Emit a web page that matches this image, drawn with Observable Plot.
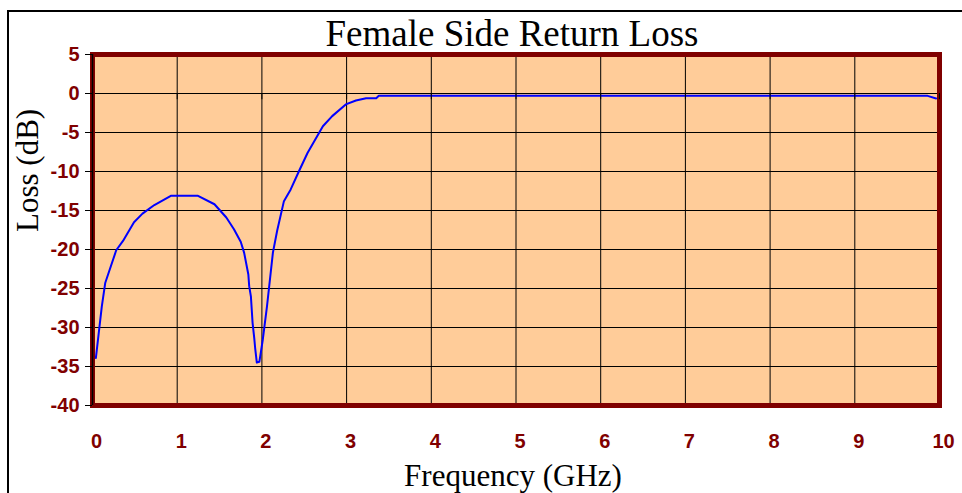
<!DOCTYPE html>
<html>
<head>
<meta charset="utf-8">
<script src="https://cdn.jsdelivr.net/npm/d3@7"></script>
<script src="https://cdn.jsdelivr.net/npm/@observablehq/plot@0.6"></script>
<style>
  html, body { margin: 0; padding: 0; background: #fff; }
  #wrap { position: relative; width: 962px; height: 493px; overflow: hidden; }
  #border { position: absolute; left: 7px; top: 10px; width: 1000px; height: 1000px;
            border-left: 2px solid #000; border-top: 2px solid #000; pointer-events: none; }
</style>
</head>
<body>
<div id="wrap"><div id="border"></div></div>
<script>
const title = "Female Side Return Loss";
const xLabel = "Frequency (GHz)";
const yLabel = "Loss (dB)";
const xTicks = [0, 1, 2, 3, 4, 5, 6, 7, 8, 9, 10];
const yTicks = [-40, -35, -30, -25, -20, -15, -10, -5, 0, 5];

const freq = [0.04, 0.11, 0.15, 0.28, 0.36, 0.49, 0.59, 0.73, 0.93, 1.24,
              1.44, 1.58, 1.67, 1.75, 1.79, 1.84, 1.85, 1.87, 1.89, 1.91,
              1.92, 1.94, 1.97, 2.01, 2.06, 2.13, 2.18, 2.26, 2.34, 2.44,
              2.54, 2.72, 2.83, 2.99, 3.11, 3.23, 3.35, 3.38, 9.86, 9.96];
const loss = [-33.9, -27.3, -24.3, -20.1, -18.9, -16.5, -15.4, -14.3, -13.1, -13.1,
              -14.2, -15.9, -17.4, -19.0, -20.4, -23.2, -24.7, -26.0, -29.4, -31.4,
              -32.6, -34.5, -34.4, -31.6, -27.3, -20.4, -17.6, -13.8, -12.3, -9.9,
              -7.6, -4.2, -2.9, -1.4, -0.9, -0.6, -0.6, -0.3, -0.3, -0.64];

const data = freq.map((f, i) => ({f, l: loss[i]}));
const dark = "#800000";
const serif = "'Liberation Serif', 'Times New Roman', serif";

const chart = Plot.plot({
  width: 962,
  height: 493,
  marginLeft: 92,
  marginRight: 23,
  marginTop: 54,
  marginBottom: 88,
  style: {fontFamily: "'Liberation Sans', Arial, sans-serif", fontWeight: "bold", background: "transparent", overflow: "visible"},
  x: {domain: [0, 10], ticks: xTicks},
  y: {domain: [-40, 5], ticks: yTicks},
  marks: [
    Plot.frame({fill: "#FFCC99", stroke: null}),
    Plot.gridX(xTicks, {stroke: "#000", strokeOpacity: 1, strokeWidth: 1}),
    Plot.gridY(yTicks, {stroke: "#000", strokeOpacity: 1, strokeWidth: 1}),
    Plot.line(data, {x: "f", y: "l", stroke: "#0000FF", strokeWidth: 2}),
    Plot.frame({stroke: dark, strokeWidth: 5}),
    Plot.ruleX([0], {stroke: "#000", strokeWidth: 1.5}),
    Plot.ruleX(xTicks, {x: d => d, y1: 0, y2: -0.8, stroke: "#000"}),
    Plot.axisY(yTicks, {anchor: "left", tickSize: 7, tickPadding: 6, stroke: "#000",
      fill: dark, fontSize: 20, tickFormat: d => String(d), label: null}),
    Plot.axisX(xTicks, {anchor: "bottom", tickSize: 0, tickPadding: 28, dx: 4,
      fill: dark, fontSize: 20, tickFormat: d => String(d), label: null}),
    Plot.text([title], {text: d => d, frameAnchor: "top", lineAnchor: "bottom", dy: -9, dx: -4,
      fontSize: 37, fontWeight: "normal", fontFamily: serif, fill: "#000"}),
    Plot.text([xLabel], {text: d => d, frameAnchor: "bottom", lineAnchor: "bottom", dy: 80, dx: -3,
      fontSize: 31, fontWeight: "normal", fontFamily: serif, fill: "#000"}),
    Plot.text([yLabel], {text: d => d, frameAnchor: "left", lineAnchor: "bottom", rotate: -90, dx: -55, dy: 2,
      fontSize: 31, fontWeight: "normal", fontFamily: serif, fill: "#000"})
  ]
});
d3.select(chart).selectAll('g[aria-label$="tick label"] text').style("font-weight", "bold");
document.getElementById("wrap").prepend(chart);
</script>
</body>
</html>
